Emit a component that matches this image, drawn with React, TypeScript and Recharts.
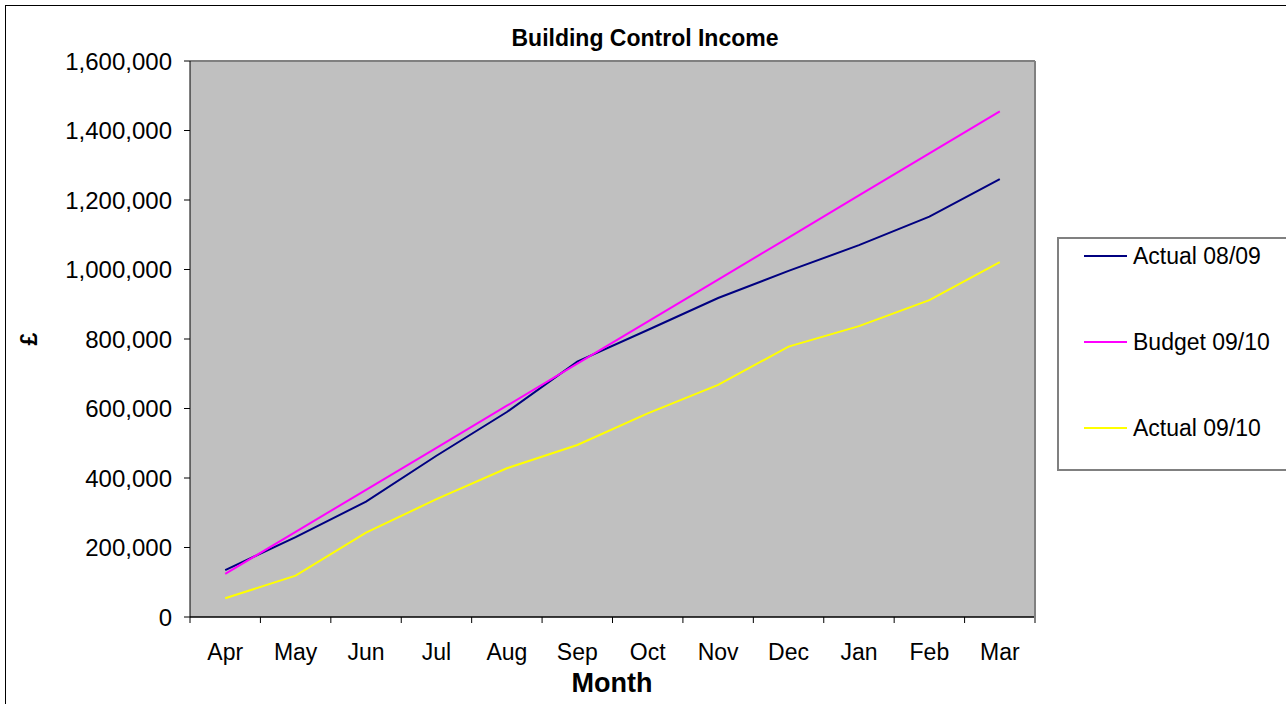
import React from 'react';
import { LineChart, Line, XAxis, YAxis, CartesianGrid, ReferenceLine } from 'recharts';

const months = ['Apr', 'May', 'Jun', 'Jul', 'Aug', 'Sep', 'Oct', 'Nov', 'Dec', 'Jan', 'Feb', 'Mar'];
const actual0809 = [135000, 230000, 332000, 464000, 590000, 735000, 826000, 918000, 996000, 1070000, 1152000, 1260000];
const budget0910 = [124000, 245000, 366000, 487000, 608000, 729000, 850000, 971000, 1092000, 1213000, 1334000, 1455000];
const actual0910 = [54000, 119000, 243000, 339000, 428000, 495000, 586000, 668000, 778000, 837000, 912000, 1021000];
const yTicks = [0, 200000, 400000, 600000, 800000, 1000000, 1200000, 1400000, 1600000];

const series = [
  { key: 'a0809', name: 'Actual 08/09', color: '#000080' },
  { key: 'b0910', name: 'Budget 09/10', color: '#FF00FF' },
  { key: 'a0910', name: 'Actual 09/10', color: '#FFFF00' },
];

const data = months.map((m, i) => ({
  month: m,
  a0809: actual0809[i],
  b0910: budget0910[i],
  a0910: actual0910[i],
}));

const FONT = "Arial, 'Liberation Sans', sans-serif";

const XTick = (props: any) => {
  const { x, y, payload, index, visibleTicksCount } = props;
  const off = payload && payload.offset ? payload.offset : 0;
  const last = index === (visibleTicksCount ?? months.length) - 1;
  return (
    <g>
      <line x1={x - off} x2={x - off} y1={y} y2={y + 6} stroke="#000" strokeWidth={1} />
      {last && <line x1={x + off} x2={x + off} y1={y} y2={y + 6} stroke="#808080" strokeWidth={2} />}
      <text x={x} y={y + 43} textAnchor="middle" fontSize={23} fontFamily={FONT} fill="#000">
        {payload.value}
      </text>
    </g>
  );
};

const fmt = (v: number) => v.toLocaleString('en-GB');

const LegendBox = () => (
  <div
    style={{
      position: 'absolute',
      left: 1057,
      top: 237,
      width: 240,
      height: 234,
      border: '2px solid #808080',
      background: '#fff',
      boxSizing: 'border-box',
      fontFamily: FONT,
      fontSize: 23,
      color: '#000',
    }}
  >
    {series.map((s, i) => (
      <div key={s.key} style={{ position: 'absolute', left: 25, top: 4 + i * 86, height: 26, display: 'flex', alignItems: 'center' }}>
        <div style={{ width: 43, height: 2, background: s.color, marginRight: 6 }} />
        <span style={{ whiteSpace: 'nowrap' }}>{s.name}</span>
      </div>
    ))}
  </div>
);

export default function App() {
  return (
    <div style={{ position: 'absolute', left: 0, top: 0, width: 1286, height: 704, background: '#fff', overflow: 'hidden' }}>
      <LineChart width={1286} height={704} data={data} margin={{ top: 61, right: 250, bottom: 0, left: 40 }}>
        <CartesianGrid vertical={false} stroke="#000" strokeWidth={1} fill="#C0C0C0" fillOpacity={1} />
        <XAxis
          dataKey="month"
          scale="band"
          height={87}
          axisLine={{ stroke: '#000', strokeWidth: 1 }}
          tickLine={false}
          tickSize={0}
          tickMargin={0}
          interval={0}
          tick={<XTick />}
        />
        <YAxis
          yAxisId="left"
          width={150}
          domain={[0, 1600000]}
          ticks={yTicks}
          interval={0}
          tickFormatter={fmt}
          tick={{ fontSize: 24, fontFamily: FONT, fill: '#000' }}
          tickSize={6}
          tickMargin={12}
          axisLine={{ stroke: '#000', strokeWidth: 1 }}
          tickLine={{ stroke: '#000' }}
        />
        <YAxis
          yAxisId="right"
          orientation="right"
          width={1}
          domain={[0, 1600000]}
          tick={false}
          tickLine={false}
          axisLine={{ stroke: '#808080', strokeWidth: 2 }}
        />
        <ReferenceLine yAxisId="left" y={1600000} stroke="#808080" strokeWidth={2} />
        {series.map((s) => (
          <Line
            key={s.key}
            yAxisId="left"
            type="linear"
            dataKey={s.key}
            name={s.name}
            stroke={s.color}
            strokeWidth={2}
            dot={false}
            activeDot={false}
            isAnimationActive={false}
          />
        ))}
      </LineChart>
      <LegendBox />
      <svg width={1286} height={704} style={{ position: 'absolute', left: 0, top: 0, pointerEvents: 'none' }}>
        <rect x={5.5} y={5.5} width={1300} height={710} fill="none" stroke="#000" strokeWidth={1} />
        <text x={645} y={46} textAnchor="middle" fontSize={23} fontWeight="bold" fontFamily={FONT} fill="#000">
          Building Control Income
        </text>
        <text
          x={0}
          y={0}
          transform="translate(37,339) rotate(-90)"
          textAnchor="middle"
          fontSize={23}
          fontWeight="bold"
          fontFamily={FONT}
          fill="#000"
        >
          £
        </text>
        <text x={612} y={692} textAnchor="middle" fontSize={27} fontWeight="bold" fontFamily={FONT} fill="#000">
          Month
        </text>
      </svg>
    </div>
  );
}
